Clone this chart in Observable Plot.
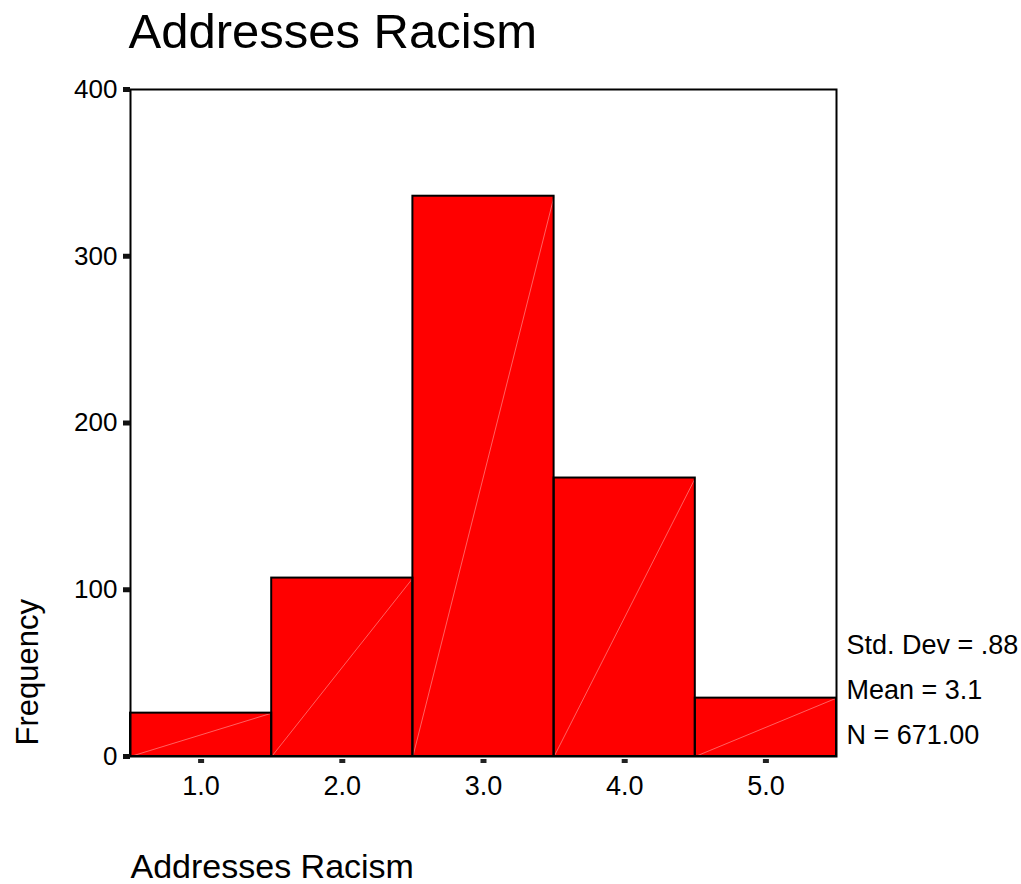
<!DOCTYPE html>
<html>
<head>
<meta charset="utf-8">
<script src="https://cdn.jsdelivr.net/npm/d3@7"></script>
<script src="https://cdn.jsdelivr.net/npm/@observablehq/plot@0.6"></script>
<style>
  html, body { margin: 0; padding: 0; background: #fff; }
  #chart svg { display: block; }
</style>
</head>
<body>
<div id="chart"></div>
<script>
// Data
const bins = [1, 2, 3, 4, 5];
const counts = [26, 107, 336, 167, 35];
const yTicks = [0, 100, 200, 300, 400];
const xTicks = [1, 2, 3, 4, 5];
const titleText = "Addresses Racism";
const xLabel = "Addresses Racism";
const yLabel = "Frequency";
const statLines = ["Std. Dev = .88", "Mean = 3.1", "N = 671.00"];

const data = bins.map((b, i) => ({bin: b, count: counts[i]}));
const FONT = "'Liberation Sans', Arial, Helvetica, sans-serif";

const chart = Plot.plot({
  width: 1021,
  height: 884,
  marginLeft: 130,
  marginRight: 185,
  marginTop: 89,
  marginBottom: 128,
  style: {fontFamily: FONT, color: "#000", background: "#fff", overflow: "visible"},
  x: {domain: [0.5, 5.5], axis: null},
  y: {domain: [0, 400], axis: null},
  marks: [
    // bars (fill)
    Plot.rect(data, {x1: d => d.bin - 0.5, x2: d => d.bin + 0.5, y1: 0, y2: "count", fill: "#ff0000"}),
    // faint diagonal artefact lines
    Plot.link(data, {x1: d => d.bin - 0.5, y1: 0, x2: d => d.bin + 0.5, y2: "count", stroke: "#ff8a8a", strokeWidth: 0.7}),
    // bar outlines
    Plot.rect(data, {x1: d => d.bin - 0.5, x2: d => d.bin + 0.5, y1: 0, y2: "count", fill: "none", stroke: "#000", strokeWidth: 2}),
    Plot.frame({stroke: "#000", strokeWidth: 2}),
    // y axis
    Plot.axisY({ticks: yTicks, tickSize: 7, strokeWidth: 5, stroke: "#111", tickPadding: 6, fontSize: 26, label: null, tickFormat: d => String(d)}),
    // x axis tick squares
    Plot.axisX({ticks: xTicks, tickSize: 4, strokeWidth: 6, stroke: "#222", dy: 3, tickFormat: () => "", label: null}),
    // x axis labels
    Plot.axisX({ticks: xTicks, tickSize: 0, tickPadding: 19, fontSize: 27, label: null, tickFormat: d3.format(".1f")}),
    // title
    Plot.text([titleText], {frameAnchor: "top-left", dx: -2, dy: -57, textAnchor: "start", lineAnchor: "middle", fontSize: 49, fill: "#000"}),
    // y label
    Plot.text([yLabel], {frameAnchor: "bottom-left", dx: -102, dy: -11, rotate: -90, textAnchor: "start", lineAnchor: "middle", fontSize: 31, fill: "#000"}),
    // x label
    Plot.text([xLabel], {frameAnchor: "bottom-left", dx: 0, dy: 111, textAnchor: "start", lineAnchor: "middle", fontSize: 34, fill: "#000"}),
    // stats
    Plot.text([statLines[0]], {frameAnchor: "bottom-right", dx: 10, dy: -111, textAnchor: "start", lineAnchor: "middle", fontSize: 27, fill: "#000"}),
    Plot.text([statLines[1]], {frameAnchor: "bottom-right", dx: 10, dy: -66, textAnchor: "start", lineAnchor: "middle", fontSize: 27, fill: "#000"}),
    Plot.text([statLines[2]], {frameAnchor: "bottom-right", dx: 10, dy: -21, textAnchor: "start", lineAnchor: "middle", fontSize: 27, fill: "#000"})
  ]
});
document.getElementById("chart").appendChild(chart);
</script>
</body>
</html>
